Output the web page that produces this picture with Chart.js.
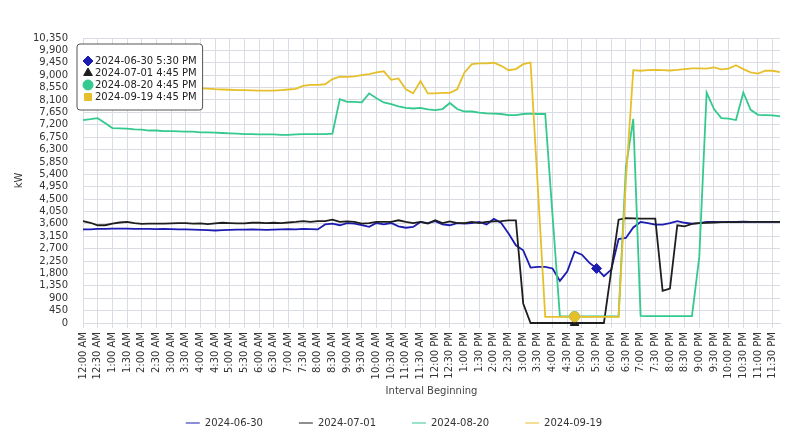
<!DOCTYPE html>
<html>
<head>
<meta charset="utf-8">
<title>Interval Load (kW)</title>
<script src="https://cdn.jsdelivr.net/npm/chart.js@4.4.1/dist/chart.umd.min.js"></script>
<style>
    html, body { margin: 0; padding: 0; background: #fff; }
    #wrap { position: relative; width: 800px; height: 439px; }
</style>
</head>
<body>
<div id="wrap"><canvas id="loadChart"></canvas></div>
<script>
// 15-minute intervals, one label per interval
const timeLabels = [
    '12:00 AM', '12:15 AM', '12:30 AM', '12:45 AM', '1:00 AM', '1:15 AM', '1:30 AM', '1:45 AM',
    '2:00 AM', '2:15 AM', '2:30 AM', '2:45 AM', '3:00 AM', '3:15 AM', '3:30 AM', '3:45 AM',
    '4:00 AM', '4:15 AM', '4:30 AM', '4:45 AM', '5:00 AM', '5:15 AM', '5:30 AM', '5:45 AM',
    '6:00 AM', '6:15 AM', '6:30 AM', '6:45 AM', '7:00 AM', '7:15 AM', '7:30 AM', '7:45 AM',
    '8:00 AM', '8:15 AM', '8:30 AM', '8:45 AM', '9:00 AM', '9:15 AM', '9:30 AM', '9:45 AM',
    '10:00 AM', '10:15 AM', '10:30 AM', '10:45 AM', '11:00 AM', '11:15 AM', '11:30 AM', '11:45 AM',
    '12:00 PM', '12:15 PM', '12:30 PM', '12:45 PM', '1:00 PM', '1:15 PM', '1:30 PM', '1:45 PM',
    '2:00 PM', '2:15 PM', '2:30 PM', '2:45 PM', '3:00 PM', '3:15 PM', '3:30 PM', '3:45 PM',
    '4:00 PM', '4:15 PM', '4:30 PM', '4:45 PM', '5:00 PM', '5:15 PM', '5:30 PM', '5:45 PM',
    '6:00 PM', '6:15 PM', '6:30 PM', '6:45 PM', '7:00 PM', '7:15 PM', '7:30 PM', '7:45 PM',
    '8:00 PM', '8:15 PM', '8:30 PM', '8:45 PM', '9:00 PM', '9:15 PM', '9:30 PM', '9:45 PM',
    '10:00 PM', '10:15 PM', '10:30 PM', '10:45 PM', '11:00 PM', '11:15 PM', '11:30 PM', '11:45 PM'
];

const seriesNames = ['2024-06-30', '2024-07-01', '2024-08-20', '2024-09-19'];

const kwJun30 = [
    3400, 3400, 3420, 3420, 3430, 3430, 3430, 3420, 3420, 3420,
    3410, 3420, 3410, 3400, 3400, 3390, 3380, 3370, 3360, 3370,
    3380, 3390, 3390, 3400, 3390, 3380, 3390, 3400, 3410, 3400,
    3420, 3410, 3400, 3580, 3610, 3550, 3630, 3610, 3550, 3490,
    3630, 3580, 3630, 3510, 3460, 3490, 3670, 3630, 3700, 3580,
    3550, 3630, 3610, 3630, 3670, 3580, 3780, 3630, 3250, 2820,
    2640, 2010, 2040, 2040, 1980, 1530, 1870, 2590, 2480, 2190,
    1980, 1700, 1940, 3050, 3090, 3470, 3670, 3630, 3570, 3570,
    3630, 3700, 3640, 3610, 3630, 3670, 3670, 3660, 3670, 3670,
    3680, 3670, 3670, 3670, 3670, 3670
];

const kwJul01 = [
    3700, 3640, 3550, 3550, 3610, 3650, 3670, 3630, 3600, 3610,
    3610, 3610, 3620, 3630, 3630, 3610, 3620, 3590, 3620, 3640,
    3630, 3620, 3620, 3640, 3640, 3630, 3640, 3630, 3650, 3670,
    3700, 3670, 3700, 3700, 3750, 3670, 3690, 3670, 3610, 3630,
    3670, 3670, 3670, 3730, 3670, 3630, 3670, 3610, 3730, 3630,
    3690, 3630, 3630, 3670, 3630, 3670, 3690, 3700, 3730, 3730,
    710, 0, 0, 0, 0, 0, 0, 0, 0, 0,
    0, 0, 1900, 3750, 3810, 3800, 3790, 3790, 3790, 1170,
    1250, 3550, 3510, 3600, 3630, 3640, 3650, 3660, 3660, 3660,
    3670, 3670, 3670, 3670, 3670, 3670
];

const kwAug20 = [
    7370, 7400, 7440, 7260, 7080, 7070, 7060, 7030, 7020, 6990,
    6990, 6970, 6970, 6960, 6950, 6950, 6920, 6920, 6910, 6900,
    6890, 6880, 6860, 6860, 6850, 6850, 6850, 6830, 6830, 6850,
    6860, 6860, 6860, 6860, 6880, 8130, 8030, 8030, 8010, 8340,
    8160, 8010, 7950, 7870, 7810, 7790, 7810, 7760, 7730, 7770,
    7990, 7770, 7680, 7680, 7640, 7610, 7600, 7590, 7550, 7550,
    7590, 7600, 7590, 7590, 3900, 240, 240, 240, 240, 240,
    240, 240, 240, 240, 5650, 7410, 260, 250, 250, 250,
    250, 250, 250, 250, 2400, 8370, 7770, 7440, 7420, 7370,
    8370, 7740, 7560, 7550, 7540, 7500
];

const kwSep19 = [
    8560, 8560, 8560, 8550, 8550, 8550, 8540, 8540, 8540, 8530,
    8530, 8530, 8530, 8520, 8520, 8520, 8520, 8510, 8490, 8480,
    8470, 8460, 8460, 8450, 8440, 8440, 8440, 8460, 8480, 8500,
    8610, 8650, 8650, 8670, 8860, 8950, 8940, 8960, 9000, 9040,
    9100, 9140, 8830, 8880, 8490, 8340, 8790, 8340, 8340, 8360,
    8360, 8490, 9100, 9400, 9430, 9430, 9450, 9340, 9180, 9220,
    9400, 9460, 4900, 225, 225, 225, 225, 225, 225, 225,
    225, 225, 225, 225, 5200, 9180, 9160, 9180, 9190, 9180,
    9170, 9190, 9220, 9250, 9250, 9240, 9280, 9210, 9240, 9360,
    9220, 9100, 9060, 9160, 9160, 9110
];

// interval shown in the hover box for each series
const hoverIndex = [70, 67, 67, 67];

const yTickValues = [
    0, 450, 900, 1350, 1800, 2250, 2700, 3150, 3600, 4050, 4500, 4950,
    5400, 5850, 6300, 6750, 7200, 7650, 8100, 8550, 9000, 9450, 9900, 10350
];

(function() {
    'use strict';

    const COLORS = {
        blue: '#1c1cb0',
        black: '#1e1e1e',
        green: '#34c98e',
        yellow: '#e6c02c',
        grid: '#dadce4',
        text: '#333333',
        border: '#555555'
    };

    const MARKERS = ['rectRot', 'triangle', 'circle', 'rect'];
    const HOVER_MARKERS = ['rectRot', 'triangle', 'circle', 'circle'];

    Chart.defaults.font.family = '"DejaVu Sans", Verdana, sans-serif';
    Chart.defaults.font.size = 10;
    Chart.defaults.color = COLORS.text;

    // Tooltip pinned to the upper-left corner of the plot
    Chart.Tooltip.positioners.pinnedCorner = function() {
        return { x: 80, y: 44 };
    };

    function makeDataset(i, values, color, order) {
        return {
            label: seriesNames[i],
            data: values,
            borderColor: color,
            backgroundColor: color,
            borderWidth: 1.8,
            tension: 0,
            fill: false,
            clip: false,
            order: order,
            pointStyle: HOVER_MARKERS[i],
            pointRadius: function(ctx) {
                return ctx.dataIndex === hoverIndex[i] ? 5 : 0;
            },
            pointBorderWidth: 1,
            pointBorderColor: color,
            pointBackgroundColor: color
        };
    }

    function initLoadChart() {
        const canvas = document.getElementById('loadChart');
        if (!canvas) return;

        const seriesColors = [COLORS.blue, COLORS.black, COLORS.green, COLORS.yellow];

        const chart = new Chart(canvas.getContext('2d'), {
            type: 'line',
            data: {
                labels: timeLabels,
                datasets: [
                    makeDataset(0, kwJun30, COLORS.blue, 4),
                    makeDataset(1, kwJul01, COLORS.black, 3),
                    makeDataset(2, kwAug20, COLORS.green, 2),
                    makeDataset(3, kwSep19, COLORS.yellow, 1)
                ]
            },
            options: {
                responsive: true,
                maintainAspectRatio: false,
                animation: false,
                events: [],
                layout: {
                    padding: { left: 8, right: 20, top: 38, bottom: 1 }
                },
                plugins: {
                    legend: {
                        position: 'bottom',
                        labels: {
                            usePointStyle: true,
                            pointStyle: 'line',
                            pointStyleWidth: 14,
                            padding: 36,
                            color: COLORS.text,
                            font: { size: 10 },
                            sort: function(a, b) {
                                return a.datasetIndex - b.datasetIndex;
                            }
                        }
                    },
                    tooltip: {
                        enabled: true,
                        animation: false,
                        position: 'pinnedCorner',
                        xAlign: 'left',
                        yAlign: 'top',
                        caretSize: 0,
                        caretPadding: 0,
                        cornerRadius: 3,
                        backgroundColor: '#ffffff',
                        borderColor: COLORS.border,
                        borderWidth: 1,
                        bodyColor: '#222222',
                        bodyFont: { size: 10 },
                        bodySpacing: 0,
                        padding: { top: 11, bottom: 7, left: 6, right: 6 },
                        usePointStyle: true,
                        boxWidth: 10,
                        boxHeight: 10,
                        itemSort: function(a, b) {
                            return a.datasetIndex - b.datasetIndex;
                        },
                        callbacks: {
                            title: function() { return ''; },
                            label: function(ctx) {
                                return ctx.dataset.label + ' ' + timeLabels[ctx.dataIndex];
                            },
                            labelColor: function(ctx) {
                                const c = seriesColors[ctx.datasetIndex];
                                return { borderColor: c, backgroundColor: c };
                            },
                            labelPointStyle: function(ctx) {
                                return { pointStyle: MARKERS[ctx.datasetIndex], rotation: 0 };
                            }
                        }
                    }
                },
                scales: {
                    x: {
                        offset: false,
                        grid: {
                            color: COLORS.grid,
                            tickLength: 5
                        },
                        border: { color: COLORS.grid },
                        ticks: {
                            autoSkip: false,
                            minRotation: 90,
                            maxRotation: 90,
                            padding: 4,
                            color: COLORS.text,
                            font: { size: 10 },
                            callback: function(value, index) {
                                // label every half hour only
                                return index % 2 === 0 ? timeLabels[index] : null;
                            }
                        },
                        title: {
                            display: true,
                            text: 'Interval Beginning',
                            color: '#444444',
                            font: { size: 10 },
                            padding: { top: 0, bottom: -15 }
                        },
                        afterFit: function(scale) {
                            scale.height = 59;
                        }
                    },
                    y: {
                        min: 0,
                        max: 10350,
                        grid: {
                            color: COLORS.grid,
                            drawTicks: false
                        },
                        border: { color: COLORS.grid },
                        ticks: {
                            autoSkip: false,
                            padding: 15,
                            color: COLORS.text,
                            font: { size: 10 },
                            callback: function(value) {
                                return Number(value).toLocaleString('en-US');
                            }
                        },
                        afterBuildTicks: function(scale) {
                            scale.ticks = yTickValues.map(function(v) { return { value: v }; });
                        },
                        title: {
                            display: true,
                            text: 'kW',
                            color: COLORS.text,
                            font: { size: 10 },
                            padding: { top: 5, bottom: 0 }
                        },
                        afterFit: function(scale) {
                            scale.width = 75;
                        }
                    }
                }
            }
        });

        // Pin the hover box on the highlighted intervals
        chart.tooltip.setActiveElements(
            hoverIndex.map(function(idx, ds) {
                return { datasetIndex: ds, index: idx };
            }),
            { x: 0, y: 0 }
        );
        chart.update();
    }

    if (document.readyState === 'loading') {
        document.addEventListener('DOMContentLoaded', initLoadChart);
    } else {
        initLoadChart();
    }

})();
</script>
</body>
</html>
